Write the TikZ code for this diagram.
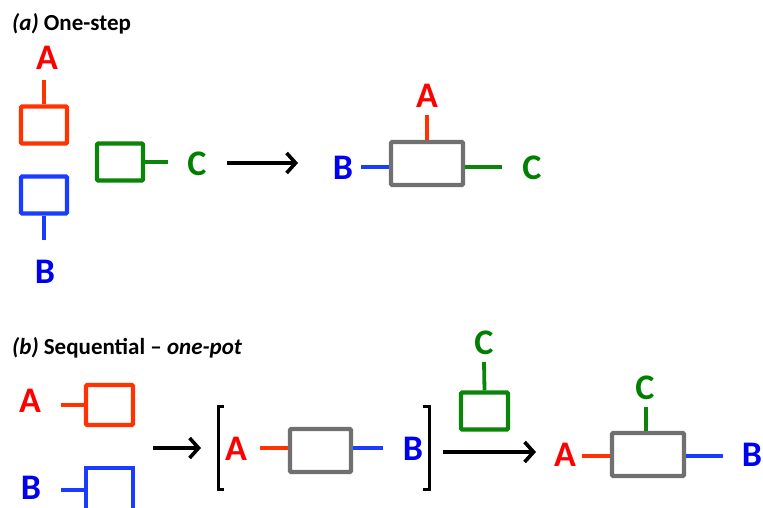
\documentclass[tikz,border=0pt]{standalone}
\usepackage{fontspec}
\setmainfont{Carlito}
\usetikzlibrary{arrows.meta,calc}

\definecolor{labred}{HTML}{FF0000}
\definecolor{boxred}{HTML}{FF3300}
\definecolor{labblue}{HTML}{0000F0}
\definecolor{boxblue}{HTML}{1A3CFF}
\definecolor{labgreen}{HTML}{008000}
\definecolor{boxgreen}{HTML}{0A850A}
\definecolor{boxgray}{HTML}{707070}

\tikzset{
  unit/.style={draw, line width=4.2pt, fill=white, minimum width=#1, minimum height=37pt, inner sep=0pt, rounded corners=1pt},
  unit/.default=46pt,
  product/.style={draw=boxgray, line width=4.2pt, fill=white, minimum width=#1, minimum height=43pt, inner sep=0pt, rounded corners=1pt},
  lab/.style={font=\bfseries\fontsize{36}{36}\selectfont, inner sep=0pt},
  heading/.style={font=\bfseries\fontsize{23}{25}\selectfont, anchor=west, inner sep=0pt},
  stem/.style={line width=3.8pt},
  rarrow/.style={line width=3.6pt, -{Straight Barb[length=9pt, width=20pt, line width=3.6pt]}},
  brk/.style={line width=3pt}
}

\begin{document}
\begin{tikzpicture}[x=1pt, y=-1pt]
\useasboundingbox (0,0) rectangle (763,508);

% ---------- (a) one-step ----------
\node[heading] (ta) at (12,24) {\textit{(a)} One-step};

\node[unit, draw=boxred] (ra) at (44,125) {};
\node[unit, draw=boxblue] (ba) at (44,195) {};
\node[unit, draw=boxgreen] (ga) at (120,162) {};
\node[lab, text=labred] (la) at (47,58) {A};
\node[lab, text=labblue] (lb) at (45,272) {B};
\node[lab, text=labgreen] (lc) at (197,164) {C};
\coordinate (raend) at (44,80);
\coordinate (baend) at (44,240);
\coordinate (gaend) at (168,162);
\draw[stem, boxred] (ra.north) -- (raend);
\draw[stem, boxblue] (ba.south) -- (baend);
\draw[stem, boxgreen] (ga.east) -- (gaend);

\coordinate (a1s) at (227,163);
\coordinate (a1e) at (298,163);
\draw[rarrow] (a1s) -- (a1e);

\node[product=72pt] (pa) at (427,163.5) {};
\node[lab, text=labred] (pla) at (427,96) {A};
\node[lab, text=labblue] (plb) at (343,168) {B};
\node[lab, text=labgreen] (plc) at (532,168) {C};
\coordinate (paa) at (427,115);
\coordinate (pab) at (361,167);
\coordinate (pac) at (502,167);
\draw[stem, boxred] (pa.north) -- (paa);
\draw[stem, boxblue] (pa.west |- pab) -- (pab);
\draw[stem, boxgreen] (pa.east |- pac) -- (pac);

% ---------- (b) sequential, one-pot ----------
\node[heading] (tb) at (12,348) {\textit{(b)} Sequential -- \textit{one-pot}};

\node[lab, text=labred] (sa) at (30,401) {A};
\node[unit=47pt, draw=boxred, minimum height=40pt] (rb) at (109.5,405) {};
\coordinate (rbs) at (61,405);
\draw[stem, boxred] (rbs) -- (rb.west);

\node[lab, text=labblue] (sb) at (31,488) {B};
\coordinate (bbl) at (86,468);
\coordinate (bbr) at (133,468);
\coordinate (bbs) at (61,490);
\draw[line width=4.2pt, boxblue] (86,515) -- (bbl) -- (bbr) -- (133,515);
\draw[stem, boxblue] (bbs) -- (86,490);

\coordinate (a2s) at (153,448);
\coordinate (a2e) at (201,448);
\draw[rarrow] (a2s) -- (a2e);

% intermediate in brackets
\coordinate (lbt) at (218,406);
\coordinate (lbb) at (218,489);
\draw[brk] ($(lbt)+(6,0)$) -- (lbt) -- (lbb) -- ($(lbb)+(6,0)$);
\node[lab, text=labred] (ia) at (236,449) {A};
\node[product=61pt] (im) at (320.5,450.5) {};
\node[lab, text=labblue] (ib) at (413,449) {B};
\coordinate (ias) at (260,448);
\coordinate (ibs) at (383,448);
\draw[stem, boxred] (ias) -- (im.west |- ias);
\draw[stem, boxblue] (im.east |- ibs) -- (ibs);
\coordinate (rbt) at (429,406);
\coordinate (rbb) at (429,489);
\draw[brk] ($(rbt)+(-6,0)$) -- (rbt) -- (rbb) -- ($(rbb)+(-6,0)$);

% third component added
\node[lab, text=labgreen] (gc) at (484,343) {C};
\node[unit=47pt, draw=boxgreen] (gb) at (484.5,411) {};
\coordinate (gbs) at (484,362);
\draw[stem, boxgreen] (gb.north) -- (gbs);

\coordinate (a3s) at (443,452);
\coordinate (a3e) at (536,452);
\draw[rarrow] (a3s) -- (a3e);

% final product
\node[lab, text=labred] (fa) at (565,455) {A};
\node[product=72pt] (fp) at (648,454.5) {};
\node[lab, text=labgreen] (fc) at (645,388) {C};
\node[lab, text=labblue] (fb) at (752,455) {B};
\coordinate (fas) at (582,456);
\coordinate (fcs) at (646,407);
\coordinate (fbs) at (723,456);
\draw[stem, boxred] (fas) -- (fp.west |- fas);
\draw[stem, boxgreen] (fp.north -| fcs) -- (fcs);
\draw[stem, boxblue] (fp.east |- fbs) -- (fbs);
\end{tikzpicture}
\end{document}
